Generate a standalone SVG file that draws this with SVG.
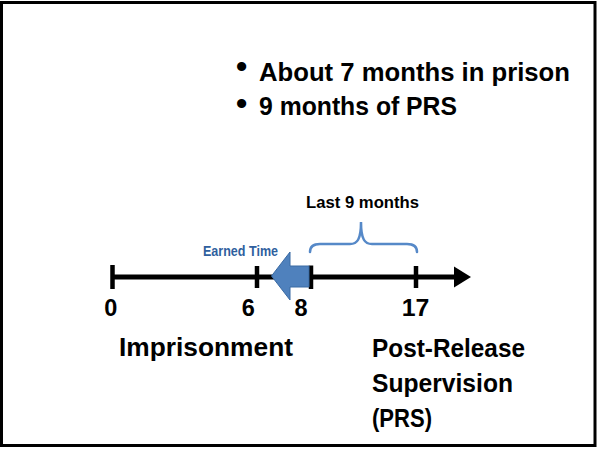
<svg xmlns="http://www.w3.org/2000/svg" width="597" height="449" viewBox="0 0 597 449">
<style>
  .t { font-family: "Liberation Sans", Arial, sans-serif; font-weight: bold; fill: #000; }
  .big { font-size: 26px; }
  .dot { font-size: 32px; text-anchor: middle; }
  .num { font-size: 23.5px; text-anchor: middle; }
  .tick { stroke: #000; stroke-width: 4.5; }
  .blue { fill: #2f5f9e; }
</style>
<rect x="0" y="0" width="597" height="449" fill="#fff"/>
<rect x="1.5" y="2.5" width="593.5" height="443" fill="none" stroke="#000" stroke-width="3"/>

<g id="bullets">
  <text class="t dot" x="241.7" y="77.3">•</text>
  <text class="t big" x="259" y="80.5" textLength="311" lengthAdjust="spacingAndGlyphs">About 7 months in prison</text>
  <text class="t dot" x="241.7" y="114">•</text>
  <text class="t big" x="259" y="114.5" textLength="198" lengthAdjust="spacingAndGlyphs">9 months of PRS</text>
</g>

<g id="connectors">
  <line x1="112" y1="277" x2="457" y2="277" stroke="#000" stroke-width="5"/>
  <polygon points="454,266.5 471,277 454,287.5" fill="#000"/>
  <path d="M310,252 C310,247 313,244 320,244 L350,244 C357,244 361,240 361,222 C361,240 365,244 372,244 L407,244 C414,244 417,247 417,252" fill="none" stroke="#5689c8" stroke-width="2.5" stroke-linecap="round"/>
</g>

<g id="ticks">
  <line class="tick" x1="112.5" y1="265" x2="112.5" y2="289"/>
  <line class="tick" x1="257" y1="266" x2="257" y2="288"/>
  <line class="tick" x1="311" y1="265.5" x2="311" y2="289"/>
  <line class="tick" x1="416" y1="266" x2="416" y2="288"/>
</g>

<g id="earned-time">
  <polygon points="271.5,276 290,252 290,266 309,266 309,287 290,287 290,300" fill="#4f81bd" stroke="#3a6aa3" stroke-width="1"/>
  <text class="t blue" x="203" y="255.5" font-size="14" textLength="75" lengthAdjust="spacingAndGlyphs">Earned Time</text>
</g>

<g id="last9">
  <text class="t" x="306" y="208" font-size="16.5" textLength="113" lengthAdjust="spacingAndGlyphs">Last 9 months</text>
</g>

<g id="numbers">
  <text class="t num" x="110.8" y="316">0</text>
  <text class="t num" x="248.3" y="316">6</text>
  <text class="t num" x="301" y="316">8</text>
  <text class="t num" x="415.5" y="316" textLength="27.6" lengthAdjust="spacingAndGlyphs">17</text>
</g>

<g id="imprisonment">
  <text class="t big" x="119" y="356" textLength="174" lengthAdjust="spacingAndGlyphs">Imprisonment</text>
</g>

<g id="prs">
  <text class="t big" x="372" y="356.5" textLength="153" lengthAdjust="spacingAndGlyphs">Post-Release</text>
  <text class="t big" x="372" y="391.5" textLength="141" lengthAdjust="spacingAndGlyphs">Supervision</text>
  <text class="t big" x="372" y="426.5" textLength="60" lengthAdjust="spacingAndGlyphs">(PRS)</text>
</g>
</svg>
